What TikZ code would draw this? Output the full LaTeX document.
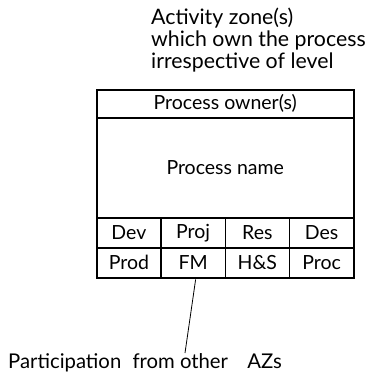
\documentclass[tikz,border=0pt]{standalone}
\usepackage{fontspec}
\setmainfont{Lato}
\begin{document}
\begin{tikzpicture}[x=1pt,y=-1pt,
  boxtext/.style={font=\fontsize{19.5}{22}\selectfont},
  toptext/.style={font=\fontsize{21.3}{24}\selectfont},
  bottext/.style={font=\fontsize{20.3}{24}\selectfont},
  cell/.style={boxtext,draw,line width=1.5pt,minimum width=64.25pt,minimum height=30pt,inner sep=0pt,anchor=north west},
  band/.style={boxtext,draw,line width=1.5pt,minimum width=257pt,inner sep=0pt,anchor=north west},
  lbl/.style={inner sep=0pt,anchor=base west}]
\useasboundingbox (0,0) rectangle (369,378);
\node[lbl,toptext] (az1) at (151,24) {Activity zone(s)};
\node[lbl,toptext] (az2) at (151,46) {which own the process};
\node[lbl,toptext] (az3) at (151,68) {irrespective of level};
\node[band,minimum height=28pt] (owner) at (96,89) {Process owner(s)};
\node[band,minimum height=100pt] (pname) at (96,117) {Process name};
\node[cell] (dev)  at (96,217) {Dev};
\node[cell] (proj) at (160.25,217) {Proj};
\node[cell] (res)  at (224.5,217) {Res};
\node[cell] (des)  at (288.75,217) {Des};
\node[cell] (prod) at (96,247) {Prod};
\node[cell] (fm)   at (160.25,247) {FM};
\node[cell] (hs)   at (224.5,247) {H\&S};
\node[cell] (proc) at (288.75,247) {Proc};
\node[lbl,bottext] (part) at (8,368) {Participation\hspace{6pt} from other\hspace{14pt} AZs};
\coordinate (pend) at (185,353);
\draw[line width=0.8pt] ([xshift=2.5pt,yshift=-1pt]fm.south) -- (pend);
\end{tikzpicture}
\end{document}
